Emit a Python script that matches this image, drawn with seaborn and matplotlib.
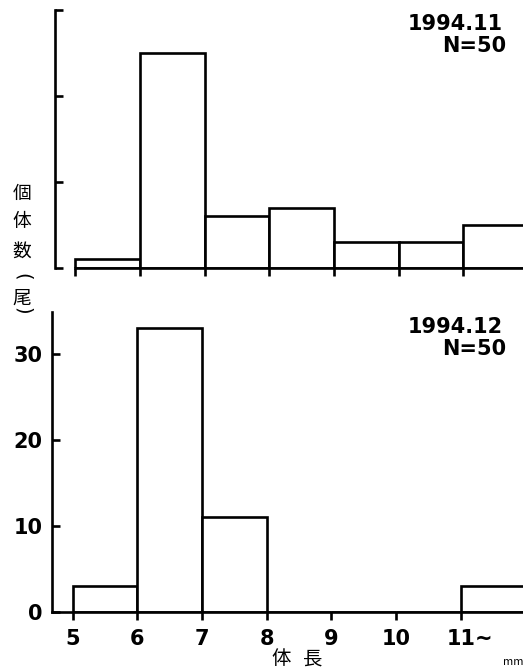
import matplotlib
matplotlib.use("Agg")
import matplotlib.pyplot as plt
import matplotlib.transforms as mtransforms
import numpy as np
import pandas as pd
import seaborn as sns

# Body length classes (lower edge, mm) and fish counts per class
length_lower = [5, 6, 7, 8, 9, 10, 11]
length_edges = [5, 6, 7, 8, 9, 10, 11, 12]
tick_labels = ["5", "6", "7", "8", "9", "10", "11~"]
counts_nov = [1, 25, 6, 7, 3, 3, 5]
counts_dec = [3, 33, 11, 0, 0, 0, 3]
y_ticks = [0, 10, 20, 30]
panel_titles = [("1994.11", "N=50"), ("1994.12", "N=50")]
ylabel_chars = ["個", "体", "数", "尾"]
xlabel_chars = ["体", "長"]
unit_label = "mm"

sns.set_style("ticks")
plt.rcParams["font.family"] = ["DejaVu Sans"]
plt.rcParams["text.color"] = "black"
plt.rcParams["xtick.color"] = "black"
plt.rcParams["ytick.color"] = "black"

W, H = 523, 672
fig = plt.figure(figsize=(W / 100, H / 100), dpi=100)


def px(x0, y0, x1, y1):
    """Axes rectangle from pixel box (left, top, right, bottom)."""
    return [x0 / W, 1 - y1 / H, (x1 - x0) / W, (y1 - y0) / H]


LW = 1.9
ax_top = fig.add_axes(px(55, 10, 523, 268))
ax_bot = fig.add_axes(px(52, 312, 523, 612))

frames = [
    (ax_top, counts_nov, (4.69, 11.92), (0, 30)),
    (ax_bot, counts_dec, (4.68, 11.96), (0, 34.9)),
]

for ax, counts, xl, yl in frames:
    df = pd.DataFrame({"length": [v + 0.5 for v in length_lower], "n": counts})
    sns.histplot(data=df, x="length", weights="n", bins=length_edges, ax=ax,
                 fill=True, color="white", edgecolor="black", linewidth=LW,
                 alpha=1, legend=False)
    ax.set_xlim(*xl)
    ax.set_ylim(*yl)
    ax.set_xlabel("")
    ax.set_ylabel("")
    for s in ["top", "right"]:
        ax.spines[s].set_visible(False)
    for s in ["left", "bottom"]:
        ax.spines[s].set_linewidth(LW)
        ax.spines[s].set_color("black")
    ax.set_xticks(length_lower)
    ax.set_yticks(y_ticks)
    ax.tick_params(axis="x", direction="out", length=6, width=LW, colors="black")
    ax.tick_params(axis="y", direction="in", length=6, width=LW, colors="black")
    ax.patch.set_visible(False)

# upper panel: bare bracket axis, baseline starting at the first class
ax_top.spines["left"].set_bounds(0, 30)
ax_top.spines["bottom"].set_bounds(length_edges[0], length_edges[-1])
ax_top.set_xticklabels([])
ax_top.set_yticklabels([])

# lower panel: labelled axes
ax_bot.set_xticklabels(tick_labels, fontsize=15, fontweight="bold")
ax_bot.set_yticklabels([str(v) for v in y_ticks], fontsize=15, fontweight="bold")
ax_bot.tick_params(axis="x", pad=6)
ax_bot.tick_params(axis="y", pad=7)
last = ax_bot.get_xticklabels()[-1]
last.set_horizontalalignment("left")
last.set_transform(last.get_transform() +
                   mtransforms.ScaledTranslation(-14.6 / 100, 0, fig.dpi_scale_trans))

# sampling date and sample size
for (date, n), (y_date, y_n) in zip(panel_titles, [(14, 36), (317, 339)]):
    fig.text(503 / W, 1 - y_date / H, date, ha="right", va="top",
             fontsize=15, fontweight="bold")
    fig.text(506 / W, 1 - y_n / H, n, ha="right", va="top",
             fontsize=15, fontweight="bold")

# vertical y-axis caption: 個体数（尾） written top to bottom
cjk = ["Noto Sans CJK JP", "DejaVu Sans"]
for ch, yc in zip(ylabel_chars, [193, 222, 251, 298]):
    fig.text(22 / W, 1 - yc / H, ch, ha="center", va="center",
             fontsize=13.5, family=cjk)
# vertical parentheses around the unit
for ch, yc in zip(["(", ")"], [277, 311]):
    fig.text(22 / W, 1 - yc / H, ch, ha="center", va="center",
             fontsize=14, rotation=-90, family="DejaVu Sans")

# x-axis caption and unit
for ch, xc in zip(xlabel_chars, [281, 313]):
    fig.text(xc / W, 1 - 659 / H, ch, ha="center", va="center",
             fontsize=14, family=cjk)
fig.text(503 / W, 1 - 662 / H, unit_label, ha="left", va="center",
         fontsize=8, family=cjk)

fig.savefig("out.png", dpi=100, facecolor="white")
